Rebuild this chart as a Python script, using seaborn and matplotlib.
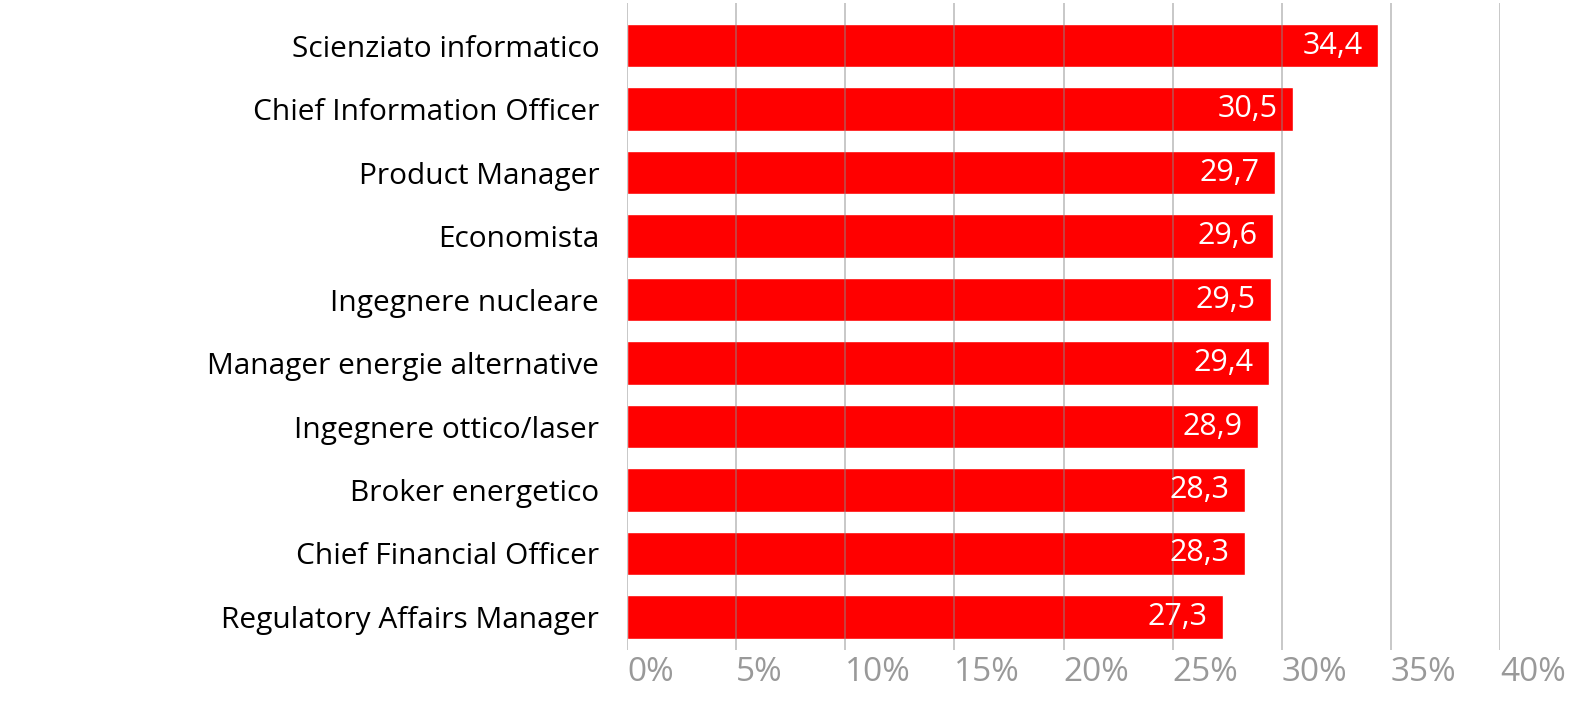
import matplotlib
matplotlib.use("Agg")
import matplotlib.pyplot as plt
import seaborn as sns
import pandas as pd

professioni = [
    "Scienziato informatico",
    "Chief Information Officer",
    "Product Manager",
    "Economista",
    "Ingegnere nucleare",
    "Manager energie alternative",
    "Ingegnere ottico/laser",
    "Broker energetico",
    "Chief Financial Officer",
    "Regulatory Affairs Manager",
]
valori = [34.4, 30.5, 29.7, 29.6, 29.5, 29.4, 28.9, 28.3, 28.3, 27.3]
x_ticks = [0, 5, 10, 15, 20, 25, 30, 35, 40]

df = pd.DataFrame({"professione": professioni, "valore": valori})

sns.set_style("white")
plt.rcParams["font.family"] = ["Open Sans", "DejaVu Sans"]

fig = plt.figure(figsize=(15.83, 7.18), dpi=100)
ax = fig.add_axes([0.3961, 0.0947, 0.5515, 0.9011])

sns.barplot(data=df, x="valore", y="professione", color="#ff0000",
            saturation=1, width=0.68, ax=ax, zorder=1)

# gridlines sit on top of the bars
for t in x_ticks:
    ax.axvline(t, color="#8a8a8a", lw=1.2, alpha=0.55, zorder=3)

ax.set_xlim(0, 40)
ax.set_ylim(9.52, -0.67)
ax.set_xticks(x_ticks)
ax.set_xticklabels([f"{t}%" for t in x_ticks], ha="left")
ax.tick_params(axis="x", length=0, pad=4, labelsize=24, labelcolor="#999999")
ax.tick_params(axis="y", length=0, pad=20, labelsize=21.5, labelcolor="#000000")
ax.set_xlabel("")
ax.set_ylabel("")
for s in ax.spines.values():
    s.set_visible(False)

for i, v in enumerate(valori):
    ax.text(v - 0.7, i, f"{v:.1f}".replace(".", ","), color="white",
            fontsize=22, ha="right", va="center", zorder=4)

fig.savefig("out.png", dpi=100)
